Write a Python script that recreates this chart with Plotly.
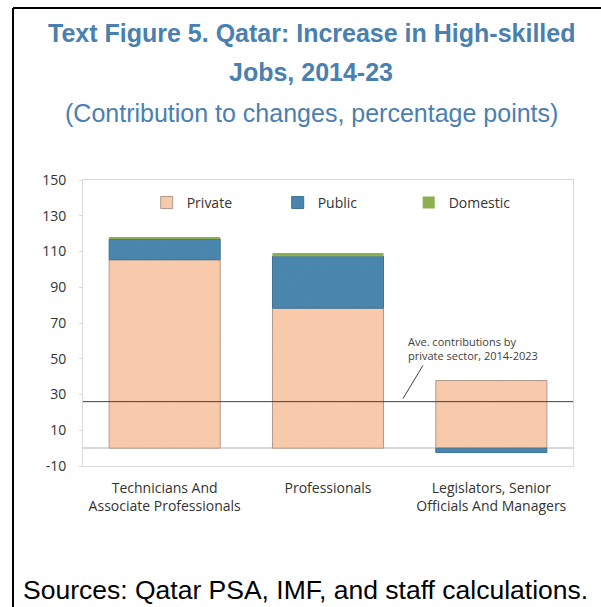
import plotly.graph_objects as go

# Data
categories = ['Technicians And<br>Associate Professionals', 'Professionals',
              'Legislators, Senior<br>Officials And Managers']
private = [105.4, 78.3, 37.8]
public = [11.6, 29.1, -2.5]
domestic = [0.8, 1.7, 0.0]
ave_private = 26.0

y_ticks = list(range(-10, 151, 20))
y_ticktext = [str(v) for v in y_ticks]

fig = go.Figure()

fig.add_trace(go.Bar(x=categories, y=private, name='Private',
                     marker=dict(color='#F8CBAD',
                                 line=dict(color='#B09A8C', width=1),
                                 pattern=dict(shape='x', size=3, solidity=0.25,
                                              fgcolor='#F2B896'))))
fig.add_trace(go.Bar(x=categories, y=public, name='Public',
                     marker=dict(color='#4A86AE',
                                 line=dict(color='#3E7193', width=1),
                                 pattern=dict(shape='x', size=3, solidity=0.2,
                                              fgcolor='#417BA3'))))
fig.add_trace(go.Bar(x=categories, y=domestic, name='Domestic',
                     marker=dict(color='#8DB04C',
                                 line=dict(color='#6E8E3A', width=0))))

fig.update_layout(
    barmode='relative',
    bargap=0.32,
    width=601, height=607,
    margin=dict(l=83, r=28, t=180, b=141),
    plot_bgcolor='white',
    paper_bgcolor='white',
    font=dict(family='Open Sans, Noto Sans, sans-serif', size=14, color='#333333'),
    showlegend=True,
    legend=dict(orientation='h', x=0.13, y=0.92, xanchor='left', yanchor='middle',
                entrywidth=86, font=dict(size=14, color='#333333'),
                bgcolor='rgba(0,0,0,0)', traceorder='normal'),
)

fig.update_yaxes(range=[-10, 150], tickvals=y_ticks, ticktext=y_ticktext, showgrid=False,
                 showline=True, linecolor='#D9D9D9', linewidth=1, mirror=True,
                 ticks='outside', ticklen=3, tickcolor='#D9D9D9', ticklabelstandoff=10,
                 zeroline=True, zerolinecolor='#D9D9D9', zerolinewidth=2,
                 tickfont=dict(size=14, color='#333333'))
fig.update_xaxes(showgrid=False, showline=True, linecolor='#D9D9D9', linewidth=1,
                 mirror=True, ticks='', ticklabelstandoff=9,
                 tickfont=dict(size=14, color='#333333'))

# average line across the plot
fig.add_shape(type='line', xref='paper', yref='y', x0=0, x1=1,
              y0=ave_private, y1=ave_private, line=dict(color='#404040', width=1))
# leader line for the note
fig.add_shape(type='line', xref='x', yref='y', x0=1.459, x1=1.581, y0=27.7, y1=46.2,
              line=dict(color='#404040', width=1))
fig.add_annotation(x=1.478, y=55.5, xref='x', yref='y', xanchor='left', yanchor='middle',
                   align='left', showarrow=False,
                   text='Ave. contributions by<br>private sector, 2014-2023',
                   font=dict(size=11, color='#404040'))

# titles
title_color = '#4A80B0'
title_x = (311 - 83) / 490
fig.add_annotation(x=title_x, y=(466 - 33) / 286, xref='paper', yref='paper',
                   xanchor='center', yanchor='middle', showarrow=False,
                   text='<b>Text Figure 5. Qatar: Increase in High-skilled</b>',
                   font=dict(family='Liberation Sans, Arial', size=25, color=title_color))
fig.add_annotation(x=title_x, y=(466 - 72) / 286, xref='paper', yref='paper',
                   xanchor='center', yanchor='middle', showarrow=False,
                   text='<b>Jobs, 2014-23</b>',
                   font=dict(family='Liberation Sans, Arial', size=25, color=title_color))
fig.add_annotation(x=title_x, y=(466 - 113) / 286, xref='paper', yref='paper',
                   xanchor='center', yanchor='middle', showarrow=False,
                   text='(Contribution to changes, percentage points)',
                   font=dict(family='Liberation Sans, Arial', size=25, color=title_color))
fig.add_annotation(x=(21 - 83) / 490, y=(466 - 590) / 286, xref='paper', yref='paper',
                   xanchor='left', yanchor='middle', showarrow=False,
                   text='Sources: Qatar PSA, IMF, and staff calculations.',
                   font=dict(family='Liberation Sans, Arial', size=26.5, color='#000000'))

# frame (left and top edges)
fig.add_shape(type='line', xref='paper', yref='paper',
              x0=(13 - 83) / 490, x1=(13 - 83) / 490, y0=(466 - 8) / 286, y1=(466 - 607) / 286,
              line=dict(color='black', width=2))
fig.add_shape(type='line', xref='paper', yref='paper',
              x0=(13 - 83) / 490, x1=(601 - 83) / 490, y0=(466 - 8) / 286, y1=(466 - 8) / 286,
              line=dict(color='black', width=2))

fig.write_html('out.html', config={'displayModeBar': False},
               post_script="document.body.style.margin='0';document.body.style.overflow='hidden';")
